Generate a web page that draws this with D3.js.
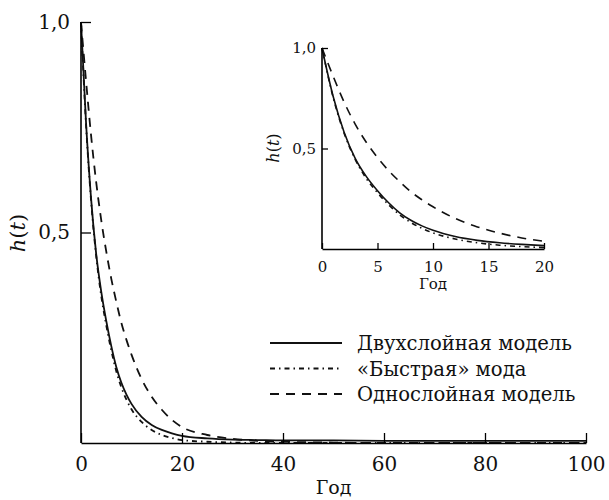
<!DOCTYPE html>
<html>
<head>
<meta charset="utf-8">
<script src="https://cdn.jsdelivr.net/npm/d3@7"></script>
<style>
  body { margin: 0; background: #fff; }
  text { font-family: "DejaVu Serif", "Liberation Serif", serif; fill: #111; }
</style>
</head>
<body>
<svg id="chart" width="609" height="500"></svg>
<script>
// годы и значения h(t)
const years = [0, 1, 2, 3, 4, 5, 6, 7, 8, 9, 10, 12, 14, 16, 18, 20, 25, 30, 35, 40, 50, 60, 70, 80, 90, 100];
const twoLayer = [1.0, 0.76, 0.58, 0.45, 0.36, 0.29, 0.23, 0.18, 0.143, 0.115, 0.093, 0.062, 0.043, 0.031, 0.023, 0.017, 0.011, 0.008, 0.007, 0.006, 0.006, 0.005, 0.005, 0.005, 0.005, 0.005];
const fastMode = [1.0, 0.755, 0.575, 0.445, 0.35, 0.28, 0.22, 0.17, 0.132, 0.103, 0.08, 0.05, 0.031, 0.019, 0.012, 0.007, 0.003, 0.001, 0.0, 0.0, 0.0, 0.0, 0.0, 0.0, 0.0, 0.0];
const oneLayer = [1.0, 0.86, 0.73, 0.62, 0.53, 0.455, 0.39, 0.335, 0.285, 0.245, 0.21, 0.152, 0.11, 0.079, 0.055, 0.038, 0.019, 0.01, 0.005, 0.003, 0.001, 0.0, 0.0, 0.0, 0.0, 0.0];

const mainXTicks = [0, 20, 40, 60, 80, 100];
const insetXTicks = [0, 5, 10, 15, 20];
const yTicks = [0.5, 1.0];
const legendLabels = ["Двухслойная модель", "«Быстрая» мода", "Однослойная модель"];

const series = [
  { name: legendLabels[0], values: twoLayer, dash: null },
  { name: legendLabels[1], values: fastMode, dash: "5,4,1.5,4" },
  { name: legendLabels[2], values: oneLayer, dash: "9,7" }
];

const svg = d3.select("#chart");
const fmt = d => d3.format(".1f")(d).replace(".", ",");

function drawPanel(opt) {
  const x = d3.scaleLinear().domain(opt.xDomain).range([opt.x0, opt.x1]);
  const y = d3.scaleLinear().domain([0, 1]).range([opt.y0, opt.y1]);
  const g = svg.append("g");

  // кривые
  const pts = years.map((t, i) => i).filter(i => years[i] <= opt.xDomain[1]);
  series.forEach(s => {
    const line = d3.line()
      .x(i => x(years[i]))
      .y(i => y(s.values[i]))
      .curve(d3.curveMonotoneX);
    g.append("path")
      .attr("d", line(pts))
      .attr("fill", "none")
      .attr("stroke", "#111")
      .attr("stroke-width", opt.lw)
      .attr("stroke-dasharray", s.dash);
  });

  // оси, засечки внутрь
  g.append("g")
    .attr("transform", "translate(0," + opt.y0 + ")")
    .call(d3.axisBottom(x).tickValues(opt.xTicks).tickSize(-opt.tick).tickSizeOuter(0).tickPadding(opt.xpad))
    .call(a => a.select(".domain").attr("stroke-width", 1.6))
    .call(a => a.selectAll(".tick line").attr("stroke-width", 1.3))
    .call(a => a.selectAll(".tick text").attr("font-size", opt.fs));

  g.append("g")
    .attr("transform", "translate(" + opt.x0 + ",0)")
    .call(d3.axisLeft(y).tickValues(yTicks).tickFormat(fmt).tickSize(-opt.tick).tickSizeOuter(0).tickPadding(opt.ypad))
    .call(a => a.select(".domain").attr("stroke-width", 1.6).attr("d", "M0," + opt.y0 + "V" + opt.y1))
    .call(a => a.selectAll(".tick line").attr("stroke-width", 1.3))
    .call(a => a.selectAll(".tick text").attr("font-size", opt.fs));

  // подписи осей
  g.append("text")
    .attr("x", (opt.x0 + opt.x1) / 2)
    .attr("y", opt.xlabY)
    .attr("text-anchor", "middle")
    .attr("font-size", opt.xlfs)
    .text("Год");

  const yl = g.append("text")
    .attr("transform", "translate(" + opt.ylabX + "," + opt.ylabY + ") rotate(-90)")
    .attr("text-anchor", "middle")
    .attr("font-size", opt.yfs);
  yl.append("tspan").attr("font-style", "italic").text("h");
  yl.append("tspan").text("(");
  yl.append("tspan").attr("font-style", "italic").text("t");
  yl.append("tspan").text(")");
}

drawPanel({ xDomain: [0, 100], x0: 81, x1: 586, y0: 443, y1: 22, xTicks: mainXTicks,
  tick: 10, xpad: 14, ypad: 11, fs: 20, xlfs: 19, yfs: 21, lw: 1.8, xlabY: 494, ylabX: 25, ylabY: 233 });

drawPanel({ xDomain: [0, 20], x0: 322, x1: 544, y0: 249, y1: 48, xTicks: insetXTicks,
  tick: 6, xpad: 12, ypad: 6, fs: 15, xlfs: 15, yfs: 16, lw: 1.6, xlabY: 289, ylabX: 279, ylabY: 148 });

// легенда
const legend = svg.append("g").attr("transform", "translate(270,343)");
series.forEach((s, i) => {
  const row = legend.append("g").attr("transform", "translate(0," + i * 25.5 + ")");
  row.append("line")
    .attr("x1", 0).attr("x2", 72).attr("y1", 0).attr("y2", 0)
    .attr("stroke", "#111").attr("stroke-width", 1.8)
    .attr("stroke-dasharray", s.dash);
  row.append("text")
    .attr("x", 87).attr("y", 7)
    .attr("font-size", 19.6)
    .text(s.name);
});
</script>
</body>
</html>
